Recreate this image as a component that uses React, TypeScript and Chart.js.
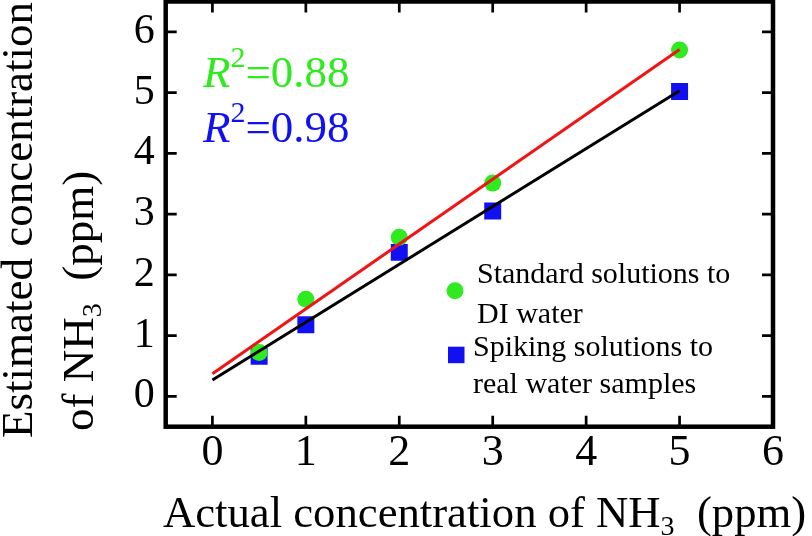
import { useEffect, useRef } from "react";
import { Chart, registerables } from "chart.js";

Chart.register(...registerables);

const FONT = "'Liberation Serif'";

// Measured concentrations (ppm)
const actualPpm = [0.5, 1, 2, 3, 5];
const standardDI = [0.72, 1.6, 2.62, 3.51, 5.7];
const spikingReal = [0.66, 1.18, 2.37, 3.05, 5.02];

// Fitted regression lines (end points)
const fitX = [0, 5];
const fitStandard = [0.37, 5.71];
const fitSpiking = [0.27, 5.03];

const xTicks = [0, 1, 2, 3, 4, 5, 6];
const yTicks = [0, 1, 2, 3, 4, 5, 6];
const r2Values = ["0.88", "0.98"];
const seriesLabels = [
  ["Standard solutions to", "DI water"],
  ["Spiking solutions to", "real water samples"],
];

const GREEN = "#2EEA1E";
const BLUE = "#1010F2";
const RED = "#F01414";
const BLACK = "#000000";

type Run = { text: string; size: number; dy?: number; italic?: boolean };

function drawRuns(ctx: CanvasRenderingContext2D, runs: Run[], x: number, y: number, color: string) {
  let cx = x;
  ctx.fillStyle = color;
  ctx.textAlign = "left";
  ctx.textBaseline = "alphabetic";
  for (const r of runs) {
    ctx.font = `${r.italic ? "italic " : "normal "}${r.size}px ${FONT}`;
    ctx.fillText(r.text, cx, y + (r.dy ?? 0));
    cx += ctx.measureText(r.text).width;
  }
}

const decorPlugin = {
  id: "decor",
  afterDraw(chart: any) {
    const { ctx, chartArea: a, scales } = chart;
    const xs = scales.x;
    const ys = scales.y;
    ctx.save();

    // inward tick marks on all four sides
    ctx.strokeStyle = BLACK;
    ctx.lineWidth = 2.7;
    ctx.lineCap = "butt";
    const tl = 11;
    ctx.beginPath();
    for (const v of xTicks) {
      const px = xs.getPixelForValue(v);
      ctx.moveTo(px, a.bottom);
      ctx.lineTo(px, a.bottom - tl);
      ctx.moveTo(px, a.top);
      ctx.lineTo(px, a.top + tl);
    }
    for (const v of yTicks) {
      const py = ys.getPixelForValue(v);
      ctx.moveTo(a.left, py);
      ctx.lineTo(a.left + tl, py);
      ctx.moveTo(a.right, py);
      ctx.lineTo(a.right - tl, py);
    }
    ctx.stroke();

    // frame
    ctx.lineWidth = 4.5;
    ctx.strokeRect(a.left, a.top, a.right - a.left, a.bottom - a.top);

    // R² annotations
    const r2Colors = [GREEN, BLUE];
    const r2Base = [86.7, 142.3];
    r2Values.forEach((val, i) => {
      drawRuns(
        ctx,
        [
          { text: "R", size: 45, italic: true },
          { text: "2", size: 30, dy: -20 },
          { text: "=" + val, size: 45 },
        ],
        203,
        r2Base[i],
        r2Colors[i]
      );
    });

    // legend
    const ds = chart.data.datasets;
    ctx.fillStyle = ds[0].backgroundColor;
    ctx.beginPath();
    ctx.arc(455, 290.7, 8.5, 0, Math.PI * 2);
    ctx.fill();
    ctx.fillStyle = ds[1].backgroundColor;
    ctx.fillRect(448, 346.7, 16.5, 16.5);

    ctx.font = `normal 30px ${FONT}`;
    ctx.fillStyle = BLACK;
    ctx.textAlign = "left";
    ctx.textBaseline = "alphabetic";
    ctx.fillText(seriesLabels[0][0], 477, 283);
    ctx.fillText(seriesLabels[0][1], 477, 322.7);
    ctx.fillText(seriesLabels[1][0], 473, 356);
    ctx.fillText(seriesLabels[1][1], 473, 393);

    // x-axis title
    drawRuns(
      ctx,
      [
        { text: "Actual concentration of NH", size: 44.7 },
        { text: "3", size: 28, dy: 8 },
        { text: "  (ppm)", size: 44.7 },
      ],
      163,
      527,
      BLACK
    );

    // y-axis title (two lines, rotated)
    ctx.save();
    ctx.translate(32, 438);
    ctx.rotate(-Math.PI / 2);
    drawRuns(ctx, [{ text: "Estimated concentration", size: 45 }], 0, 0, BLACK);
    ctx.restore();

    ctx.save();
    ctx.translate(93, 431);
    ctx.rotate(-Math.PI / 2);
    drawRuns(
      ctx,
      [
        { text: "of NH", size: 45 },
        { text: "3", size: 28, dy: 8 },
        { text: "  (ppm)", size: 45 },
      ],
      0,
      0,
      BLACK
    );
    ctx.restore();

    ctx.restore();
  },
};

export default function App() {
  const canvasRef = useRef<HTMLCanvasElement | null>(null);

  useEffect(() => {
    const canvas = canvasRef.current;
    if (!canvas) return;

    const chart = new Chart(canvas, {
      type: "scatter",
      data: {
        datasets: [
          {
            type: "scatter",
            label: seriesLabels[0].join(" "),
            data: actualPpm.map((x, i) => ({ x, y: standardDI[i] })),
            backgroundColor: GREEN,
            borderWidth: 0,
            pointStyle: "circle",
            pointRadius: 8.5,
            order: 2,
          },
          {
            type: "scatter",
            label: seriesLabels[1].join(" "),
            data: actualPpm.map((x, i) => ({ x, y: spikingReal[i] })),
            backgroundColor: BLUE,
            borderWidth: 0,
            pointStyle: "rect",
            pointRadius: 12,
            order: 2,
          },
          {
            type: "line",
            label: "fit standard",
            data: fitX.map((x, i) => ({ x, y: fitStandard[i] })),
            borderColor: RED,
            borderWidth: 3,
            pointRadius: 0,
            fill: false,
            order: 1,
          },
          {
            type: "line",
            label: "fit spiking",
            data: fitX.map((x, i) => ({ x, y: fitSpiking[i] })),
            borderColor: BLACK,
            borderWidth: 3,
            pointRadius: 0,
            fill: false,
            order: 1,
          },
        ],
      } as any,
      options: {
        animation: false,
        responsive: false,
        events: [],
        layout: { autoPadding: false, padding: { top: 1.5, right: 39, left: 0, bottom: 0 } },
        plugins: { legend: { display: false }, tooltip: { enabled: false } },
        scales: {
          x: {
            type: "linear",
            min: -0.5,
            max: 6,
            grid: { display: false, drawTicks: false },
            border: { display: false },
            afterBuildTicks: (s: any) => {
              s.ticks = xTicks.map((v) => ({ value: v }));
            },
            afterFit: (s: any) => {
              s.height = 109.3;
              s.paddingLeft = 0;
              s.paddingRight = 0;
            },
            ticks: {
              color: BLACK,
              padding: 0,
              autoSkip: false,
              maxRotation: 0,
              font: { family: FONT, size: 44 },
            },
          },
          y: {
            type: "linear",
            min: -0.5,
            max: 6.5,
            grid: { display: false, drawTicks: false },
            border: { display: false },
            afterBuildTicks: (s: any) => {
              s.ticks = yTicks.map((v) => ({ value: v }));
            },
            afterFit: (s: any) => {
              s.width = 165.7;
              s.paddingTop = 0;
              s.paddingBottom = 0;
            },
            ticks: {
              color: BLACK,
              padding: 11,
              autoSkip: false,
              font: { family: FONT, size: 42 },
            },
          },
        },
      } as any,
      plugins: [decorPlugin],
    });

    return () => chart.destroy();
  }, []);

  return (
    <div style={{ position: "absolute", left: 0, top: 0, width: 812, height: 536, background: "#fff" }}>
      <canvas ref={canvasRef} width={812} height={536} style={{ display: "block" }} />
    </div>
  );
}
